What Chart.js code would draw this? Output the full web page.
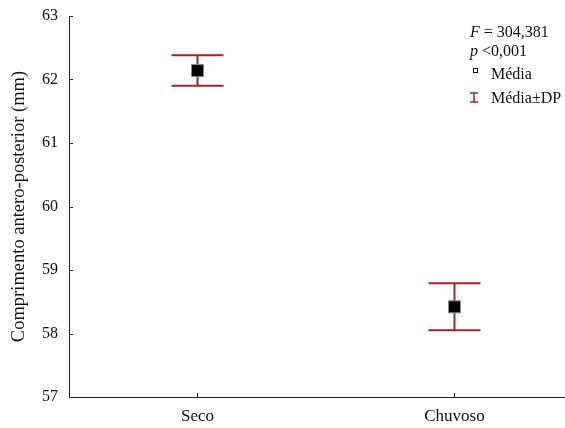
<!DOCTYPE html>
<html>
<head>
<meta charset="utf-8">
<script src="https://cdn.jsdelivr.net/npm/chart.js@4.4.1/dist/chart.umd.min.js"></script>
<style>
  html, body { margin: 0; padding: 0; background: #fff; }
  #wrap { width: 565px; height: 428px; }
</style>
</head>
<body>
<div id="wrap"><canvas id="c" width="565" height="428"></canvas></div>
<script>
// Seasons and the mean / standard deviation of antero-posterior length
const categories = ['Seco', 'Chuvoso'];
const means = [62.14, 58.42];
const stdDevs = [0.24, 0.37];
const yTicks = [57, 58, 59, 60, 61, 62, 63];
const statLines = ['F = 304,381', 'p <0,001'];
const legendLabels = ['Média', 'Média±DP'];

const FONT = '"Liberation Serif", "Times New Roman", serif';
const BAR_COLOR = '#9e2429';

// error bars (mean ± SD) drawn through the chart scales, behind the mean markers
const errorBars = {
  id: 'errorBars',
  beforeDatasetsDraw(chart) {
    const { ctx, scales: { x, y } } = chart;
    ctx.save();
    ctx.strokeStyle = BAR_COLOR;
    ctx.lineWidth = 2;
    means.forEach((m, i) => {
      const px = x.getPixelForValue(i);
      const top = y.getPixelForValue(m + stdDevs[i]);
      const bot = y.getPixelForValue(m - stdDevs[i]);
      const half = 26;
      ctx.beginPath();
      ctx.moveTo(px, top); ctx.lineTo(px, bot);
      ctx.moveTo(px - half, top); ctx.lineTo(px + half, top);
      ctx.moveTo(px - half, bot); ctx.lineTo(px + half, bot);
      ctx.stroke();
    });
    ctx.restore();
  }
};

// inward tick marks, statistics text and legend
const decorations = {
  id: 'decorations',
  afterDraw(chart) {
    const { ctx, scales: { x, y }, chartArea } = chart;
    ctx.save();
    ctx.strokeStyle = '#222';
    ctx.lineWidth = 1;
    ctx.beginPath();
    y.ticks.forEach(t => {
      const py = Math.round(y.getPixelForValue(t.value)) + 0.5;
      ctx.moveTo(chartArea.left, py); ctx.lineTo(chartArea.left + 4, py);
    });
    x.ticks.forEach(t => {
      const px = Math.round(x.getPixelForValue(t.value)) + 0.5;
      ctx.moveTo(px, chartArea.bottom); ctx.lineTo(px, chartArea.bottom - 4);
    });
    ctx.stroke();

    ctx.fillStyle = '#111';
    ctx.textBaseline = 'middle';
    ctx.textAlign = 'left';
    const lx = 470;
    // F statistic and p value, with italic letters
    ctx.font = 'italic 16px ' + FONT;
    ctx.fillText('F', lx, 33);
    let w = ctx.measureText('F').width;
    ctx.font = '16px ' + FONT;
    ctx.fillText(statLines[0].slice(1), lx + w, 33);
    ctx.font = 'italic 16px ' + FONT;
    ctx.fillText('p', lx, 52);
    w = ctx.measureText('p').width;
    ctx.font = '16px ' + FONT;
    ctx.fillText(statLines[1].slice(1), lx + w, 52);

    // legend entries
    ctx.font = '16px ' + FONT;
    ctx.fillText(legendLabels[0], 491, 75);
    ctx.fillText(legendLabels[1], 491, 99);
    ctx.strokeStyle = '#111';
    ctx.strokeRect(473.5, 68.5, 4, 4);
    ctx.strokeStyle = BAR_COLOR;
    ctx.lineWidth = 1.5;
    ctx.beginPath();
    ctx.moveTo(474, 93); ctx.lineTo(474, 102);
    ctx.moveTo(470, 93); ctx.lineTo(478, 93);
    ctx.moveTo(470, 102); ctx.lineTo(478, 102);
    ctx.stroke();
    ctx.restore();
  }
};

new Chart(document.getElementById('c'), {
  type: 'scatter',
  data: {
    datasets: [{
      data: means.map((m, i) => ({ x: i, y: m })),
      pointStyle: 'rect',
      pointRadius: 8.5,
      pointHoverRadius: 8.5,
      backgroundColor: '#000',
      borderColor: '#888',
      borderWidth: 1
    }]
  },
  options: {
    responsive: false,
    animation: false,
    events: [],
    layout: { autoPadding: false, padding: { top: 16, right: 0, left: 0, bottom: 0 } },
    plugins: { legend: { display: false }, tooltip: { enabled: false } },
    scales: {
      x: {
        type: 'linear',
        min: -0.5,
        max: 1.43,
        afterBuildTicks(s) { s.ticks = categories.map((_, i) => ({ value: i })); },
        afterFit(s) { s.height = 31; s.paddingLeft = 0; s.paddingRight = 0; },
        grid: { display: false, drawTicks: false },
        border: { display: true, color: '#222', width: 1 },
        ticks: {
          callback: v => categories[v],
          color: '#111',
          padding: 9,
          font: { family: FONT, size: 17 },
          maxRotation: 0
        }
      },
      y: {
        min: 57,
        max: 63,
        afterBuildTicks(s) { s.ticks = yTicks.map(v => ({ value: v })); },
        afterFit(s) { s.width = 69; s.paddingTop = 0; s.paddingBottom = 0; },
        grid: { display: false, drawTicks: false },
        border: { display: true, color: '#222', width: 1 },
        ticks: {
          color: '#111',
          padding: 11,
          font: { family: FONT, size: 16 }
        },
        title: {
          display: true,
          text: 'Comprimento antero-posterior (mm)',
          color: '#111',
          font: { family: FONT, size: 18.5 },
          padding: { top: 8, bottom: 0 }
        }
      }
    }
  },
  plugins: [errorBars, decorations]
});
</script>
</body>
</html>
